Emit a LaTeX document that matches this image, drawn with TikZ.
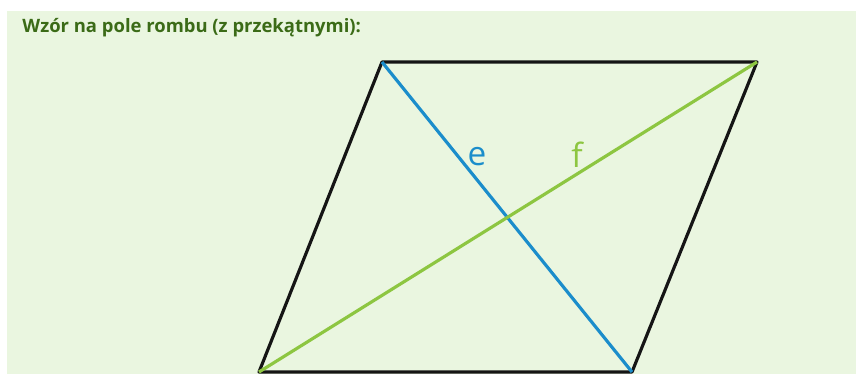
\documentclass[tikz,border=0pt]{standalone}
\usepackage{fontspec}
\setmainfont{Open Sans}
\usepackage{tikz}
\usetikzlibrary{positioning}
\definecolor{RombBg}{HTML}{EAF6E0}
\definecolor{RombTitle}{HTML}{3B6B17}
\definecolor{RombBlue}{HTML}{1B8DCB}
\definecolor{RombGreen}{HTML}{8DC641}
\definecolor{RombInk}{HTML}{151515}

\begin{document}
\begin{tikzpicture}[x=0.02cm,y=-0.02cm,line width=1.8pt]
  \useasboundingbox (0,0) rectangle (856,374);
  \fill[RombBg] (7,11) rectangle (856,374);
  \node[RombTitle,font=\bfseries\fontsize{10.5}{12}\selectfont,anchor=west] (tytul) at (15,28)
    {Wzór na pole rombu (z przekątnymi):};
  % wierzcholki rombu
  \coordinate (A) at (259,372);
  \coordinate (B) at (632,372);
  \coordinate (C) at (757,62);
  \coordinate (D) at (382,62);
  \draw[RombInk,line join=round] (A) -- (B) -- (C) -- (D) -- cycle;
  \draw[RombBlue] (D) -- (B);
  \draw[RombGreen] (A) -- (C);
  \node[RombBlue,font=\fontsize{19}{22}\selectfont] (e) at (477,157) {e};
  \node[RombGreen,font=\fontsize{19}{22}\selectfont] (f) at (577,155) {f};
\end{tikzpicture}
\end{document}
